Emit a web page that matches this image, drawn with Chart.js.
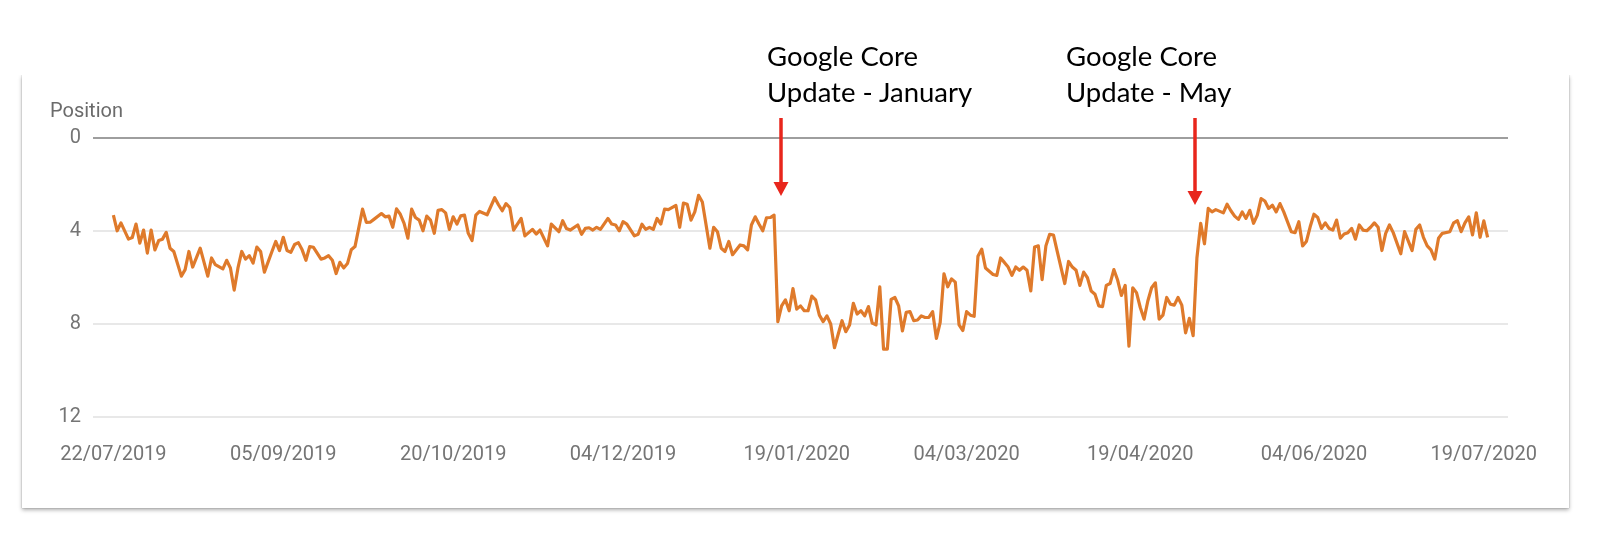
<!DOCTYPE html>
<html>
<head>
<meta charset="utf-8">
<title>Position</title>
<script src="https://cdn.jsdelivr.net/npm/chart.js@4.4.0/dist/chart.umd.min.js"></script>
<style>
  html, body { margin: 0; padding: 0; background: #fff; }
  #stage { position: relative; width: 1600px; height: 556px; overflow: hidden; }
  #card {
    position: absolute; left: 22px; top: 75px; width: 1547px; height: 433px;
    background: #fff;
    box-shadow: 0 2px 4px rgba(0,0,0,0.32), 0 0 1px rgba(0,0,0,0.35);
  }
  #topmask { position: absolute; left: 0; top: 0; width: 1600px; height: 75px; background: #fff; }
  #chart { position: absolute; left: 0; top: 0; }
  #ylabel {
    position: absolute; left: 50px; top: 100px;
    font-family: Roboto, sans-serif; font-size: 20px; line-height: 20px; color: #6b6b6b;
  }
  .note {
    position: absolute; top: 38px;
    font-family: Lato, sans-serif; font-size: 27.5px; line-height: 36px; color: #000;
    white-space: nowrap;
  }
</style>
</head>
<body>
<div id="stage">
  <div id="card"></div>
  <div id="topmask"></div>
  <canvas id="chart" width="1600" height="556"></canvas>
  <div id="ylabel">Position</div>
  <div class="note" style="left:767px">Google Core<br>Update - January</div>
  <div class="note" style="left:1066px">Google Core<br>Update - May</div>
</div>
<script>
// daily average position, day 0 = 22/07/2019 (null = not readable)
const positions = [
  3.32, 3.99, 3.65, null, 4.35, 4.28, 3.70, 4.52, 3.96, 4.95,   // 0
  3.96, 4.81, 4.41, 4.35, 4.06, 4.74, 4.88, null, 5.94, 5.66,   // 10
  4.88, 5.55, null, 4.74, null, 5.94, 5.16, 5.45, null, 5.63,   // 20
  5.26, 5.59, 6.54, 5.59, 4.88, 5.21, 5.06, 5.38, 4.69, 4.88,   // 30
  5.77, null, 4.88, 4.45, 4.84, 4.27, 4.84, 4.92, 4.58, 4.50,   // 40
  4.81, 5.26, 4.67, 4.70, null, 5.21, 5.16, 5.06, 5.26, 5.83,   // 50
  5.35, 5.59, 5.40, 4.81, 4.67, null, 3.06, 3.63, 3.62, 3.50,   // 60
  null, 3.25, 3.39, 3.36, 3.84, 3.05, 3.28, 3.67, 4.31, 3.06,   // 70
  3.42, 3.53, 3.99, 3.36, 3.53, 4.10, 3.11, 3.08, 3.22, 3.93,   // 80
  3.39, 3.70, 3.35, 3.32, 4.10, 4.41, 3.32, 3.16, null, 3.30,   // 90
  null, 2.57, 2.87, 3.13, 2.82, 2.99, 3.96, null, 3.46, 4.21,   // 100
  null, 3.93, 4.13, 3.96, null, 4.64, 3.70, null, 4.03, 3.56,   // 110
  3.89, 3.96, null, 3.74, 4.14, 3.89, 3.86, 3.96, 3.84, 3.93,   // 120
  null, 3.46, 3.70, 3.74, 3.99, 3.60, 3.70, null, 4.21, 4.14,   // 130
  3.71, 3.93, 3.84, 3.93, 3.46, 3.70, 3.06, 3.08, null, 2.90,   // 140
  3.84, 2.80, 2.85, 3.53, 3.18, 2.47, 2.75, null, 4.74, 3.84,   // 150
  4.03, 4.74, 4.88, 4.45, 5.02, null, 4.60, 4.64, 4.81, 3.74,   // 160
  3.39, 3.70, 3.99, 3.43, 3.42, 3.32, 7.90, 7.22, 6.96, 7.43,   // 170
  6.48, 7.36, 7.22, 7.43, 7.43, 6.80, 6.96, 7.62, 7.90, 7.65,   // 180
  8.00, 9.02, 8.43, 7.86, 8.33, 8.04, 7.11, 7.57, 7.43, 7.65,   // 190
  7.25, 7.96, 8.04, 6.40, 9.08, 9.08, 6.94, 6.86, 7.22, 8.30,   // 200
  7.50, 7.47, 7.86, 7.83, 7.65, 7.72, 7.72, 7.47, 8.62, 7.93,   // 210
  5.84, 6.40, 6.06, 6.20, 8.04, 8.28, 7.47, 7.62, 7.67, 5.09,   // 220
  4.78, 5.59, 5.73, 5.87, 5.91, 5.16, 5.35, 5.55, 5.91, 5.55,   // 230
  5.69, 5.55, 5.69, 6.58, 4.69, 4.64, 6.09, 4.64, 4.14, 4.17,   // 240
  4.88, null, 6.26, 5.31, 5.55, 5.69, 6.34, 5.77, 6.01, 6.58,   // 250
  6.72, 7.22, 7.25, 6.34, 6.26, 5.66, 6.11, 6.77, 6.34, 8.95,   // 260
  6.44, 6.65, 7.29, 7.79, 7.01, 6.44, 6.23, 7.79, 7.62, 6.86,   // 270
  7.15, 7.19, 6.86, 7.19, 8.38, 7.76, 8.50, 5.16, 3.67, 4.55,   // 280
  3.03, 3.18, 3.08, null, 3.22, 2.85, 3.13, 3.36, 3.50, 3.18,   // 290
  3.46, 3.11, 3.67, 3.32, 2.61, 2.71, 3.03, 2.89, 3.18, 2.82,   // 300
  3.18, null, 4.03, 4.07, 3.60, 4.64, 4.45, 3.82, 3.28, 3.42,   // 310
  3.89, 3.65, 3.89, 3.96, 3.53, 4.31, 4.13, 4.07, 3.89, 4.35,   // 320
  3.74, 3.96, 3.99, 3.84, 3.65, 3.84, 4.84, 4.10, 3.74, 4.07,   // 330
  null, 4.98, 4.03, null, 4.84, 3.93, 3.74, 4.27, 4.64, 4.81,   // 340
  5.21, 4.31, 4.10, null, 4.03, 3.65, 3.56, 4.03, 3.65, 3.39,   // 350
  4.17, 3.22, 4.27, 3.56, 4.27                                   // 360
];

// x axis ticks (day offsets from 22/07/2019)
const tickDays = [0, 45, 90, 135, 181, 226, 272, 318, 363];
const tickLabels = ['22/07/2019', '05/09/2019', '20/10/2019', '04/12/2019', '19/01/2020',
                    '04/03/2020', '19/04/2020', '04/06/2020', '19/07/2020'];

// y axis
const yTicks = [0, 4, 8, 12];

// arrows for the two core updates (day offset)
const arrowDays = [176.9, 286.6];
const arrowTips = [196, 205];   // px, where the head ends

const LINE = '#df7a2b';
const ARROW = '#e8261c';
const TICK_COLOR = '#757575';

const points = positions.map((v, i) => ({ x: i, y: v }));

const arrowPlugin = {
  id: 'coreArrows',
  afterDatasetsDraw(chart) {
    const ctx = chart.ctx;
    const x = chart.scales.x;
    arrowDays.forEach((d, i) => {
      const px = Math.round(x.getPixelForValue(d));
      const tip = arrowTips[i];
      ctx.save();
      ctx.strokeStyle = ARROW;
      ctx.lineWidth = 3.5;
      ctx.beginPath();
      ctx.moveTo(px, 118);
      ctx.lineTo(px, tip - 12);
      ctx.stroke();
      ctx.fillStyle = ARROW;
      ctx.beginPath();
      ctx.moveTo(px - 7.5, tip - 14);
      ctx.lineTo(px + 7.5, tip - 14);
      ctx.lineTo(px, tip);
      ctx.closePath();
      ctx.fill();
      ctx.restore();
    });
  }
};

const ctx = document.getElementById('chart').getContext('2d');
new Chart(ctx, {
  type: 'line',
  data: {
    datasets: [{
      label: 'Position',
      data: points,
      borderColor: LINE,
      borderWidth: 3.2,
      pointRadius: 0,
      tension: 0,
      spanGaps: true,
      borderJoinStyle: 'round'
    }]
  },
  options: {
    responsive: false,
    animation: false,
    layout: { padding: { left: 0, right: 92, top: 138, bottom: 0 } },
    plugins: { legend: { display: false }, tooltip: { enabled: false } },
    scales: {
      x: {
        type: 'linear',
        min: -5.4,
        max: 369.4,
        afterBuildTicks: s => { s.ticks = tickDays.map(v => ({ value: v })); },
        afterFit: s => { s.height = 139; },
        grid: { display: false },
        border: { display: false },
        ticks: {
          autoSkip: false,
          maxRotation: 0,
          padding: 18,
          color: TICK_COLOR,
          font: { family: 'Roboto', size: 20 },
          callback: v => tickLabels[tickDays.indexOf(v)]
        }
      },
      y: {
        reverse: true,
        min: 0,
        max: 12,
        afterBuildTicks: s => { s.ticks = yTicks.map(v => ({ value: v })); },
        afterFit: s => { s.width = 93; },
        border: { display: false },
        grid: {
          drawTicks: false,
          color: c => c.tick.value === 0 ? '#9e9e9e' : '#e8e8e8',
          lineWidth: 2
        },
        ticks: {
          padding: 12,
          color: TICK_COLOR,
          font: { family: 'Roboto', size: 20 }
        }
      }
    }
  },
  plugins: [arrowPlugin]
});
</script>
</body>
</html>
